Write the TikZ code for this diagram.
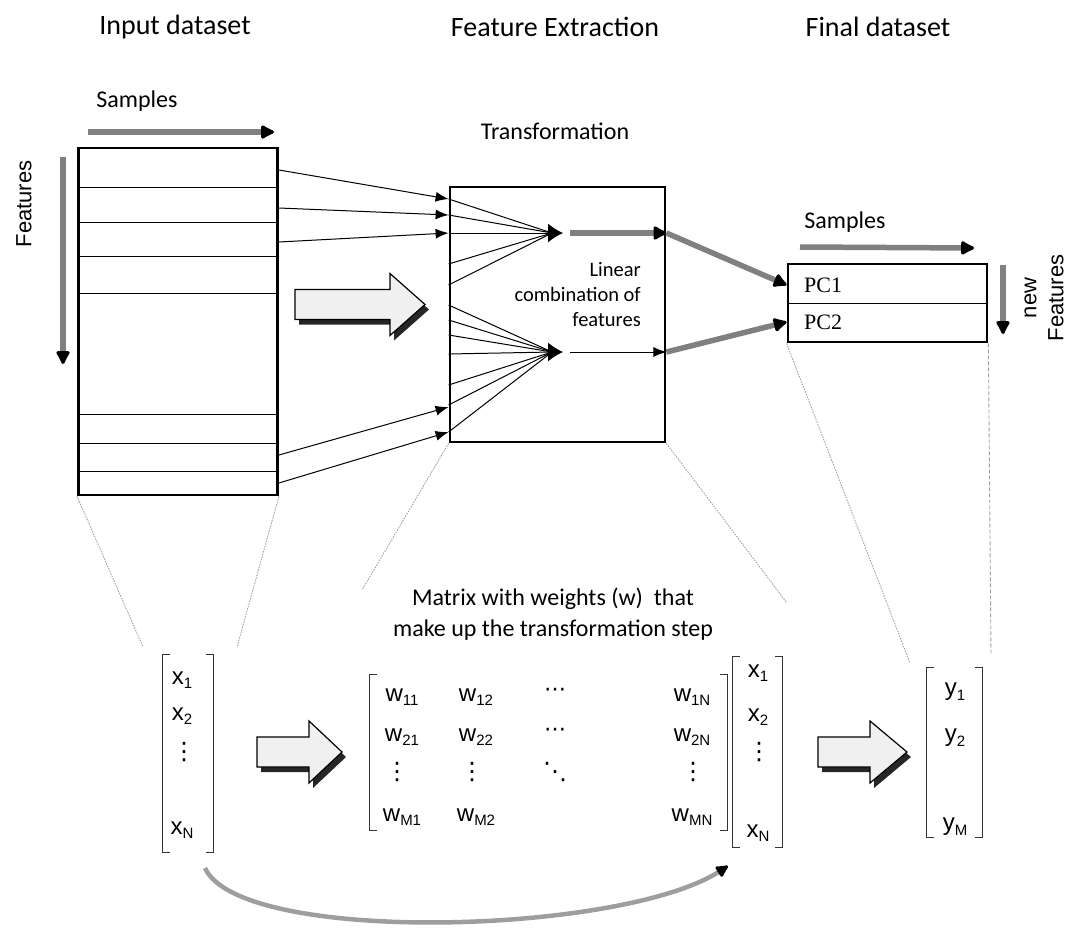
\documentclass[tikz,border=0pt]{standalone}
\usepackage{fontspec}
\setmainfont{Carlito}
\newfontfamily\arialfont{Liberation Sans}
\newfontfamily\timesfont{Liberation Serif}
\newfontfamily\dotfont{DejaVu Sans}
\usetikzlibrary{arrows.meta}
\newcommand{\Fs}[2]{\fontsize{#1}{#2}\selectfont}
\newcommand{\Ix}[1]{\raisebox{-0.35ex}{\fontsize{15}{15}\selectfont #1}}
% dots for the matrices
\newcommand{\Vd}{{\dotfont\Fs{24}{24}⋮}}
\newcommand{\Cd}{{\dotfont\Fs{22}{22}⋯}}
\newcommand{\Dd}{{\dotfont\Fs{24}{24}⋱}}
\tikzstyle{Title}=[font=\Fs{28}{32},inner sep=0pt]
\tikzstyle{Label}=[font=\Fs{24}{31},inner sep=0pt]
\tikzstyle{Small}=[font=\Fs{20.5}{25},inner sep=0pt]
\tikzstyle{Side}=[font={\arialfont\Fs{22}{27}},inner sep=0pt]
\tikzstyle{PC}=[font={\timesfont\Fs{22}{22}},inner sep=0pt]
\tikzstyle{Entry}=[font={\arialfont\Fs{24}{24}},inner sep=0pt]
\tikzstyle{Box}=[draw,line width=2.8pt,inner sep=0pt]
\tikzstyle{Vec}=[inner sep=0pt]
\tikzstyle{Rule}=[draw,line width=0.9pt]
\tikzstyle{Bracket}=[draw=black!80,line width=1pt]
\tikzstyle{Feed}=[draw,line width=1pt,-{Latex[length=13pt,width=10pt]}]
\tikzstyle{Merge}=[draw,line width=1pt]
\tikzstyle{Head}=[draw,line width=1pt,-{Latex[length=15pt,width=19pt]}]
\tikzstyle{Shade}=[draw=black!50,line width=5.5pt,
  -{Latex[length=16pt,width=17pt,color=black,round]}]
\tikzstyle{Curve}=[draw=black!38,line width=4.5pt,
  -{Latex[length=15pt,width=15pt,color=black,round]}]
\tikzstyle{Guide}=[draw=gray!75,line width=0.9pt,dash pattern=on 1.5pt off 1.2pt]
\tikzstyle{Dash}=[draw=gray!75,line width=0.9pt,dash pattern=on 4pt off 2pt]
% brackets round a vector or matrix node
\newcommand{\Brackets}[1]{%
  \draw[Bracket] ([xshift=7]#1.north west) -- (#1.north west)
    -- (#1.south west) -- ([xshift=7]#1.south west);
  \draw[Bracket] ([xshift=-7]#1.north east) -- (#1.north east)
    -- (#1.south east) -- ([xshift=-7]#1.south east);}
% fat hollow arrow with shadow: x, y (left middle), shaft, head
\newcommand{\BlockArrow}[4]{%
  \fill[black!85] (#1+4,#2+5) ++(0,-15) -- ++(#3,0) -- ++(0,-16)
    -- ++(#4,31) -- ++(-#4,31) -- ++(0,-16) -- ++(-#3,0) -- cycle;
  \filldraw[fill=gray!12,draw=black,line width=1.2pt] (#1,#2) ++(0,-15)
    -- ++(#3,0) -- ++(0,-16) -- ++(#4,31) -- ++(-#4,31) -- ++(0,-16)
    -- ++(-#3,0) -- cycle;}
\begin{document}
\begin{tikzpicture}[x=1pt,y=-1pt]
\useasboundingbox (0,0) rectangle (1088,937);
% titles
\node[Title] (t1) at (175,27) {Input dataset};
\node[Title] (t2) at (555,27) {Feature Extraction};
\node[Title] (t3) at (878,27) {Final dataset};

% input dataset
\node[Label] (samp1) at (137,101) {Samples};
\node[Side,rotate=90] (feat1) at (24,204) {Features};
\node[Box,minimum width=199,minimum height=347] (inbox) at (178,321.5) {};
\foreach \y in {187,222,256,293,414,443,471}
  \draw[Rule] (inbox.west |- 0,\y) -- (inbox.east |- 0,\y);
\coordinate (sa) at (88,132);
\coordinate (sb) at (274,132);
\draw[Shade] (sa) -- (sb);
\coordinate (fa) at (63,157);
\coordinate (fb) at (63,364);
\draw[Shade] (fa) -- (fb);
\BlockArrow{295}{304.5}{95}{35}

% transformation
\node[Label] (trans) at (555,131) {Transformation};
\node[Box,minimum width=215,minimum height=255] (midbox) at (557.5,314.5) {};
\coordinate (A) at (552,233);
\coordinate (B) at (552,352);
\node[Small,align=right,anchor=east] (lin) at (641,295)
  {Linear\\combination of\\features};
\foreach \a/\b in {170/199,208/215,242/233,455/407,483/432}
  \draw[Feed] (inbox.east |- 0,\a) -- (midbox.west |- 0,\b);
\foreach \y in {199,215,233,264,285}
  \draw[Merge] (midbox.west |- 0,\y) -- (A);
\foreach \y in {305,320,335,354,385,405,432}
  \draw[Merge] (midbox.west |- 0,\y) -- (B);
\draw[Head] ([xshift=-4]A) -- ([xshift=11]A);
\draw[Head] ([xshift=-4]B) -- ([xshift=11]B);
\draw[Shade] ([xshift=18]A) -- (midbox.east |- A);
\draw[Feed] ([xshift=18]B) -- (midbox.east |- B);

% final dataset
\node[Label] (samp2) at (845,222) {Samples};
\node[Box,minimum width=199,minimum height=78] (outbox) at (887.5,303) {};
\draw[Rule] (outbox.west) -- (outbox.east);
\node[PC,anchor=west] (pc1) at (804,285) {PC1};
\node[PC,anchor=west] (pc2) at (804,322) {PC2};
\node[Side,rotate=90,align=center] (feat2) at (1044,298) {new\\Features};
\coordinate (sc) at (800,247);
\coordinate (sd) at (974,248);
\draw[Shade] (sc) -- (sd);
\coordinate (fc) at (1003,265);
\coordinate (fd) at (1003,334);
\draw[Shade] (fc) -- (fd);
\draw[Shade] (midbox.east |- A) -- (outbox.west |- pc1);
\draw[Shade] (midbox.east |- B) -- (outbox.west |- pc2);

% vectors and weights
\node[Label,align=center] (cap) at (553,614)
  {Matrix with weights (w)\ \ that\\make up the transformation step};
\node[Vec,minimum width=50,minimum height=197] (xa) at (188,753.5) {};
\Brackets{xa}
\node[Entry] (xa1) at (182,680) {x\Ix{1}};
\node[Entry] (xa2) at (182,716) {x\Ix{2}};
\node[Entry] (xa3) at (184,752) {\Vd};
\node[Entry] (xan) at (182,830) {x\Ix{N}};
\BlockArrow{257}{752}{52}{33}
\node[Vec,minimum width=357,minimum height=155] (wm) at (548.5,752.5) {};
\Brackets{wm}
\node[Entry] (w11) at (402,697) {w\Ix{11}};
\node[Entry] (w12) at (476,697) {w\Ix{12}};
\node[Entry] (w13) at (555,692) {\Cd};
\node[Entry] (w14) at (692,697) {w\Ix{1N}};
\node[Entry] (w21) at (402,737) {w\Ix{21}};
\node[Entry] (w22) at (476,737) {w\Ix{22}};
\node[Entry] (w23) at (555,732) {\Cd};
\node[Entry] (w24) at (692,737) {w\Ix{2N}};
\node[Entry] (w31) at (397,772) {\Vd};
\node[Entry] (w32) at (472,772) {\Vd};
\node[Entry] (w33) at (555,772) {\Dd};
\node[Entry] (w34) at (693,772) {\Vd};
\node[Entry] (wm1) at (402,817) {w\Ix{M1}};
\node[Entry] (wm2) at (476,817) {w\Ix{M2}};
\node[Entry] (wmn) at (692,817) {w\Ix{MN}};
\node[Vec,minimum width=49,minimum height=190] (xb) at (757.5,752) {};
\Brackets{xb}
\node[Entry] (xb1) at (758,673) {x\Ix{1}};
\node[Entry] (xb2) at (758,717) {x\Ix{2}};
\node[Entry] (xb3) at (759,752) {\Vd};
\node[Entry] (xbn) at (758,833) {x\Ix{N}};
\BlockArrow{818}{752}{52}{37}
\node[Vec,minimum width=55,minimum height=169] (yv) at (954.5,752.5) {};
\Brackets{yv}
\node[Entry] (y1) at (955,692) {y\Ix{1}};
\node[Entry] (y2) at (955,738) {y\Ix{2}};
\node[Entry] (ym) at (955,827) {y\Ix{M}};

% guide lines
\coordinate (g1) at (143,647);
\coordinate (g2) at (237,647);
\coordinate (g3) at (362,590);
\coordinate (g4) at (787,603);
\coordinate (g5) at (910,663);
\coordinate (g6) at (991,655);
\draw[Guide] (inbox.south west) -- (g1);
\draw[Guide] (inbox.south east) -- (g2);
\draw[Guide] (midbox.south west) -- (g3);
\draw[Guide] (midbox.south east) -- (g4);
\draw[Guide] (outbox.south west) -- (g5);
\draw[Dash] (outbox.south east) -- (g6);
\coordinate (c1) at (205,868);
\coordinate (c2) at (728,866);
\draw[Curve] (c1) .. controls (240,945) and (620,935) .. (c2);
\end{tikzpicture}
\end{document}
